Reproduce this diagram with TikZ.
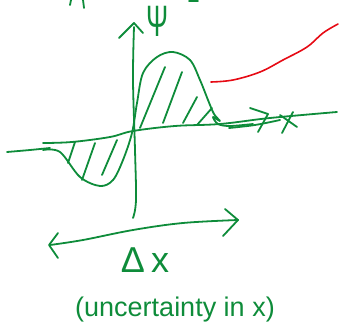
\documentclass[tikz,border=0pt]{standalone}
\usepackage{fontspec}
\setmainfont{Liberation Sans}
\definecolor{pen}{RGB}{14,140,58}
\definecolor{redpen}{RGB}{230,10,20}
\begin{document}
\begin{tikzpicture}[x=1pt,y=-1pt,
  ink/.style={draw=pen,line width=1.8pt,line cap=round,line join=round},
  redink/.style={draw=redpen,line width=1.6pt,line cap=round,line join=round},
  lbl/.style={text=pen,inner sep=0pt}]
\useasboundingbox (0,0) rectangle (339,328);
% cut-off strokes at top
\draw[ink] (71,0) -- (70,5);
\draw[ink] (83,0) -- (84,8);
\draw[ink] (189,1) -- (198,1);
% psi axis
\draw[ink] plot[smooth,tension=0.6] coordinates {(134,27) (133,80) (135,150) (136,200) (133,218)};
\draw[ink] (119,38) -- (134,23) -- (143,33);
\node[lbl,font=\fontsize{44}{44}\selectfont,anchor=base] (psi) at (158,37) {\scalebox{0.6}[1]{Ψ}};
% x axis
\draw[ink] plot[smooth,tension=0.6] coordinates {(43,143) (72,142) (110,137) (133,131) (175,126) (220,124) (270,118) (337,112)};
\draw[ink] plot[smooth,tension=0.6] coordinates {(7,152) (30,150) (50,148)};
\draw[ink] plot[smooth,tension=0.6] coordinates {(229,128) (255,125) (280,120)};
\draw[ink] (250,108) -- (268,114) -- (258,132);
% x label near axis
\draw[ink] (280,115) -- (297,127);
\draw[ink] (293,112) -- (282,133);
% wave function curve
\draw[ink] plot[smooth,tension=0.55] coordinates {(43,150) (60,152) (80,177) (100,186) (113,180) (123,160) (132,133) (137,103) (143,73) (157,57) (173,52) (190,60) (200,80) (208,100) (214,114) (220,121) (213,117) (218,124) (230,126) (253,124)};
% hatching positive lobe
\draw[ink] (140,128) -- (165,67);
\draw[ink] (163,123) -- (182,72);
\draw[ink] (183,123) -- (197,97);
\draw[ink] (197,125) -- (212,108);
% hatching negative lobe
\draw[ink] (68,163) -- (75,142);
\draw[ink] (82,180) -- (95,143);
\draw[ink] (102,175) -- (117,140);
% red line
\draw[redink] plot[smooth,tension=0.6] coordinates {(211,82) (233,80) (260,72) (283,60) (307,47) (323,33) (338,24)};
% delta x double arrow
\draw[ink] plot[smooth,tension=0.6] coordinates {(50,245) (83,240) (133,230) (183,223) (238,220)};
\draw[ink] (58,233) -- (49,245) -- (58,258);
\draw[ink] (225,209) -- (238,220) -- (223,236);
\node[lbl,font=\fontsize{36}{36}\selectfont,anchor=base] (dx) at (145,272) {Δ\,x};
\node[lbl,font=\fontsize{27}{27}\selectfont,anchor=base] (unc) at (175,316) {(uncertainty in x)};
\end{tikzpicture}
\end{document}
